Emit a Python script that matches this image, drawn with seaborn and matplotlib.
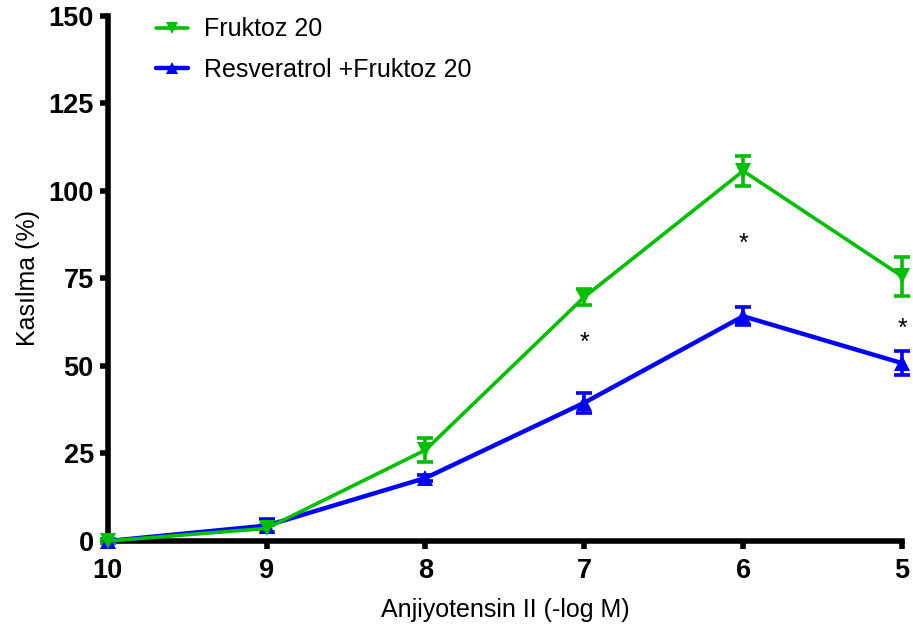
import matplotlib
matplotlib.use("Agg")
import matplotlib.pyplot as plt
import seaborn as sns
import pandas as pd

# Angiotensin II concentration (-log M)
doses = [10, 9, 8, 7, 6, 5]

fruktoz_mean = [0.0, 3.6, 26.0, 69.7, 105.7, 75.6]
fruktoz_sem = [0.5, 1.0, 3.5, 2.2, 4.2, 5.5]

resv_mean = [0.0, 4.4, 18.0, 39.5, 64.2, 50.8]
resv_sem = [0.6, 1.8, 0.8, 2.8, 2.6, 3.4]

series_names = ["Fruktoz 20", "Resveratrol +Fruktoz 20"]
series_colors = {"Fruktoz 20": "#00C000", "Resveratrol +Fruktoz 20": "#0000FF"}

# Significance marks: (dose, height)
star_x = [7, 6, 5]
star_y = [56.5, 85.0, 60.5]

df = pd.DataFrame({
    "dose": doses * 2,
    "value": fruktoz_mean + resv_mean,
    "sem": fruktoz_sem + resv_sem,
    "group": [series_names[0]] * len(doses) + [series_names[1]] * len(doses),
})

sns.set_style("ticks", {"axes.edgecolor": "black", "text.color": "black",
                        "xtick.color": "black", "ytick.color": "black",
                        "axes.labelcolor": "black"})
plt.rcParams["font.family"] = ["Liberation Sans", "DejaVu Sans"]

fig = plt.figure(figsize=(9.13, 6.33), dpi=100)
ax = fig.add_axes([0.118, 0.1453, 0.870, 0.8297])

# blue drawn first so the green series sits on top
draw_order = [series_names[1], series_names[0]]
markers = {series_names[0]: "v", series_names[1]: "^"}
widths = {series_names[0]: 2.6, series_names[1]: 3.2}
for name in draw_order:
    sub = df[df["group"] == name]
    ax.errorbar(sub["dose"], sub["value"], yerr=sub["sem"], fmt="none",
                ecolor=series_colors[name], elinewidth=2.6, capsize=6,
                capthick=2.6, clip_on=False, zorder=3)
    sns.lineplot(data=sub, x="dose", y="value", ax=ax,
                 color=series_colors[name], marker=markers[name],
                 markersize=11, markeredgewidth=0, linewidth=widths[name],
                 label=name, clip_on=False, zorder=4, errorbar=None)

for sx, sy in zip(star_x, star_y):
    ax.text(sx, sy, "*", ha="center", va="center", fontsize=18, color="black")

ax.set_xlim(10, 5)
ax.set_ylim(0, 150)
ax.set_xticks(doses)
ax.set_xticklabels([str(d) for d in doses])
ax.set_yticks([0, 25, 50, 75, 100, 125, 150])

for s in ["top", "right"]:
    ax.spines[s].set_visible(False)
for s in ["left", "bottom"]:
    ax.spines[s].set_linewidth(4)
    ax.spines[s].set_color("black")
ax.tick_params(axis="both", width=4, length=6, direction="out",
               labelsize=19.5, colors="black")
ax.tick_params(axis="x", pad=6)
ax.tick_params(axis="y", pad=4)
for lab in ax.get_xticklabels() + ax.get_yticklabels():
    lab.set_fontweight("bold")

ax.set_xlabel("Anjiyotensin II (-log M)", fontsize=18, labelpad=10, color="black")
ax.set_ylabel("Kasılma (%)", fontsize=18, labelpad=6, color="black")

handles, labels = ax.get_legend_handles_labels()
order = [labels.index(n) for n in series_names]
leg = ax.legend([handles[i] for i in order], [labels[i] for i in order],
                loc="upper left", bbox_to_anchor=(0.033, 1.04), frameon=False,
                fontsize=18, handlelength=1.25, handletextpad=0.65,
                labelspacing=0.65, markerscale=0.8)
for t in leg.get_texts():
    t.set_color("black")

fig.savefig("out.png", dpi=100)
